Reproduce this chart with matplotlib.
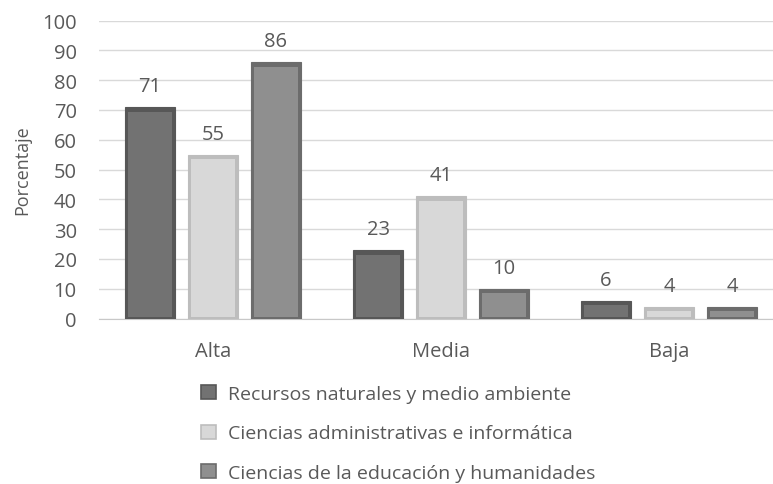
import numpy as np
import matplotlib.pyplot as plt
from matplotlib.patches import Patch

categories = ['Alta', 'Media', 'Baja']
series = ['Recursos naturales y medio ambiente',
          'Ciencias administrativas e informática',
          'Ciencias de la educación y humanidades']
recursos = [71, 23, 6]
administrativas = [55, 41, 4]
educacion = [86, 10, 4]
values = [recursos, administrativas, educacion]

face = ['#727272', '#d8d8d8', '#8f8f8f']
edge = ['#575757', '#bdbdbd', '#6c6c6c']
txt = '#595959'

plt.rcParams['font.family'] = ['Open Sans', 'DejaVu Sans']

fig = plt.figure(figsize=(7.73, 4.85), dpi=100)
# plot area runs a bit past the right edge, like the cropped original
ax = fig.add_axes([99/773, 1-319.5/485, 684/773, 298/485])

x = np.arange(len(categories))
w = 0.22
step = 0.276
for i, vals in enumerate(values):
    xs = x + (i-1)*step
    ax.bar(xs, vals, w, color=edge[i], edgecolor=edge[i], linewidth=0.8, zorder=3)
    # inner face for a simple bevel look
    inner = [max(v - 1.6, 0.5) for v in vals]
    ax.bar(xs, [v - 0.4 for v in inner], w*0.88, bottom=0.4, color=face[i], linewidth=0, zorder=4)
    for xi, v in zip(xs, vals):
        ax.annotate(str(v), (xi, v), xytext=(0, 15), textcoords='offset points',
                    ha='center', va='center', fontsize=14.5, color=txt)

ax.set_xlim(-0.5, 2.5)
ax.set_ylim(0, 100)
ax.set_yticks(range(0, 101, 10))
ax.set_xticks(x)
ax.set_xticklabels(categories)
ax.tick_params(axis='both', length=0, labelsize=14.5, colors=txt)
ax.tick_params(axis='y', pad=16)
ax.tick_params(axis='x', pad=16)
ax.yaxis.grid(True, color='#d9d9d9', linewidth=1, zorder=0)
ax.set_axisbelow(True)
for s in ['top', 'right', 'left']:
    ax.spines[s].set_visible(False)
ax.spines['bottom'].set_color('#c8c8c8')
ax.set_ylabel('Porcentaje', fontsize=13, color=txt, labelpad=8)

handles = [Patch(facecolor=face[i], edgecolor=edge[i], linewidth=1.2) for i in range(3)]
fig.legend(handles, series, loc='upper center', bbox_to_anchor=(0.515, 0.24),
           frameon=False, fontsize=14, labelcolor=txt, labelspacing=1.1,
           handlelength=0.75, handleheight=0.75, handletextpad=0.6)

fig.savefig('out.png', dpi=100)
